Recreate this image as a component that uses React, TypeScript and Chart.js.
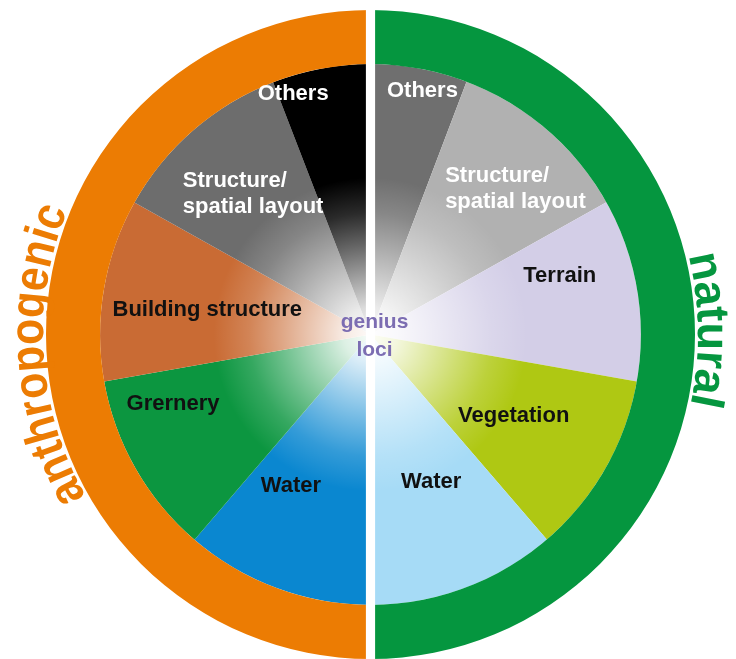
import { useEffect, useRef } from 'react';
import { Chart, registerables } from 'chart.js';

Chart.register(...registerables);

// ---- data ----
const groupLabels = ['natural', 'anthropogenic'];
const groupValues = [180, 180];
const groupColors = ['#05963f', '#ec7c03'];

const innerLabels = [
  'Others',
  'Structure/\nspatial layout',
  'Terrain',
  'Vegetation',
  'Water',
  'Water',
  'Grernery',
  'Building structure',
  'Structure/\nspatial layout',
  'Others',
];
// angular share of each sector (degrees, clockwise from top)
const innerValues = [20.8, 39.9, 39.3, 39.3, 40.7, 40.6, 39.4, 39.2, 39.7, 21.1];
const innerColors = [
  '#6f6f6f',
  '#b1b1b1',
  '#d3cee7',
  '#afc813',
  '#a6dbf6',
  '#0a87d0',
  '#0c9640',
  '#c96b34',
  '#6d6d6d',
  '#000000',
];
const innerTextColors = ['#ffffff', '#ffffff', '#111111', '#111111', '#111111', '#111111', '#111111', '#111111', '#ffffff', '#ffffff'];
const centerLines = ['genius', 'loci'];

// ---- text layout (fractions of the inner radius, left x / first baseline) ----
const labelAnchors: [number, number][] = [
  [0.061, -0.88],
  [0.276, -0.565],
  [0.565, -0.194],
  [0.324, 0.324],
  [0.113, 0.569],
  [-0.406, 0.583],
  [-0.902, 0.28],
  [-0.954, -0.069],
  [-0.694, -0.546],
  [-0.417, -0.869],
];
// ring words on an arc: [center angle (deg, clockwise from top), font px, horizontal scale]
const groupTextLayout: [number, number, number][] = [
  [89.2, 46, 0.98],
  [266.3, 48, 0.89],
];

const FONT = '"Liberation Sans", Arial, Helvetica, sans-serif';

function drawArcText(
  ctx: CanvasRenderingContext2D,
  text: string,
  cx: number,
  cy: number,
  r: number,
  centerDeg: number,
  sx: number
) {
  const widths = Array.from(text).map((ch) => ctx.measureText(ch).width * sx);
  const total = widths.reduce((a, b) => a + b, 0);
  let ang = (centerDeg * Math.PI) / 180 - total / r / 2;
  Array.from(text).forEach((ch, i) => {
    const w = widths[i];
    const a = ang + w / r / 2;
    ctx.save();
    ctx.translate(cx + r * Math.sin(a), cy - r * Math.cos(a));
    ctx.rotate(a);
    ctx.scale(sx, 1);
    ctx.fillText(ch, 0, 0);
    ctx.restore();
    ang += w / r;
  });
}

const decorPlugin = {
  id: 'decor',
  afterDatasetsDraw(chart: any) {
    const meta = chart.getDatasetMeta(1);
    const arc = meta.data[0];
    if (!arc) return;
    const cx = arc.x;
    const cy = arc.y;
    const R = arc.outerRadius;
    const ctx = chart.ctx as CanvasRenderingContext2D;
    ctx.save();
    ctx.beginPath();
    ctx.arc(cx, cy, R, 0, Math.PI * 2);
    ctx.clip();
    const g = ctx.createRadialGradient(cx, cy, 0, cx, cy, R);
    g.addColorStop(0, 'rgba(255,255,255,0.97)');
    g.addColorStop(0.1, 'rgba(255,255,255,0.86)');
    g.addColorStop(0.23, 'rgba(255,255,255,0.6)');
    g.addColorStop(0.33, 'rgba(255,255,255,0.4)');
    g.addColorStop(0.45, 'rgba(255,255,255,0.17)');
    g.addColorStop(0.58, 'rgba(255,255,255,0)');
    g.addColorStop(1, 'rgba(255,255,255,0)');
    ctx.fillStyle = g;
    ctx.fillRect(cx - R, cy - R, 2 * R, 2 * R);
    ctx.restore();

    ctx.save();
    ctx.fillStyle = '#ffffff';
    ctx.fillRect(cx - 4.6, 0, 9.2, chart.height);
    ctx.restore();
  },
  afterDraw(chart: any) {
    const ctx = chart.ctx as CanvasRenderingContext2D;
    const inner = chart.getDatasetMeta(1).data;
    const outer = chart.getDatasetMeta(0).data;
    if (!inner.length) return;
    const cx = inner[0].x;
    const cy = inner[0].y;
    const R = inner[0].outerRadius;
    const RO = outer[0].outerRadius;

    ctx.save();
    ctx.font = `bold 22px ${FONT}`;
    ctx.textAlign = 'left';
    ctx.textBaseline = 'alphabetic';
    innerLabels.forEach((lab, i) => {
      const [fx, fy] = labelAnchors[i];
      ctx.fillStyle = innerTextColors[i];
      lab.split('\n').forEach((line, j) => {
        ctx.fillText(line, cx + fx * R, cy + fy * R + j * 26);
      });
    });

    // center
    ctx.textAlign = 'center';
    ctx.font = `bold 21px ${FONT}`;
    ctx.fillStyle = '#7c6db2';
    centerLines.forEach((line, j) => {
      ctx.fillText(line, cx + 4, cy - 7 + j * 28);
    });

    // ring words, set along the outside of the ring
    groupLabels.forEach((lab, i) => {
      const [deg, size, sx] = groupTextLayout[i];
      ctx.font = `bold ${size}px ${FONT}`;
      ctx.fillStyle = groupColors[i];
      ctx.textAlign = 'center';
      ctx.textBaseline = 'alphabetic';
      drawArcText(ctx, lab, cx, cy, RO + 3, deg, sx);
    });
    ctx.restore();
  },
};

export default function App() {
  const ref = useRef<HTMLCanvasElement | null>(null);
  useEffect(() => {
    if (!ref.current) return;
    const chart = new Chart(ref.current, {
      type: 'doughnut',
      data: {
        labels: innerLabels,
        datasets: [
          {
            label: 'group',
            data: groupValues,
            backgroundColor: groupColors,
            borderWidth: 0,
            weight: 1,
          } as any,
          {
            label: 'aspects',
            data: innerValues,
            backgroundColor: innerColors,
            borderWidth: 0,
            weight: 5,
          } as any,
        ],
      },
      options: {
        responsive: false,
        devicePixelRatio: 1,
        animation: false,
        cutout: 0,
        events: [],
        layout: { padding: { left: 46, right: 41, top: 10, bottom: 0 } },
        plugins: {
          legend: { display: false },
          tooltip: { enabled: false },
        },
      },
      plugins: [decorPlugin],
    });
    return () => chart.destroy();
  }, []);
  return (
    <div style={{ position: 'absolute', left: 0, top: 0, width: 736, height: 659, background: '#fff' }}>
      <canvas ref={ref} width={736} height={659} style={{ display: 'block' }} />
    </div>
  );
}
